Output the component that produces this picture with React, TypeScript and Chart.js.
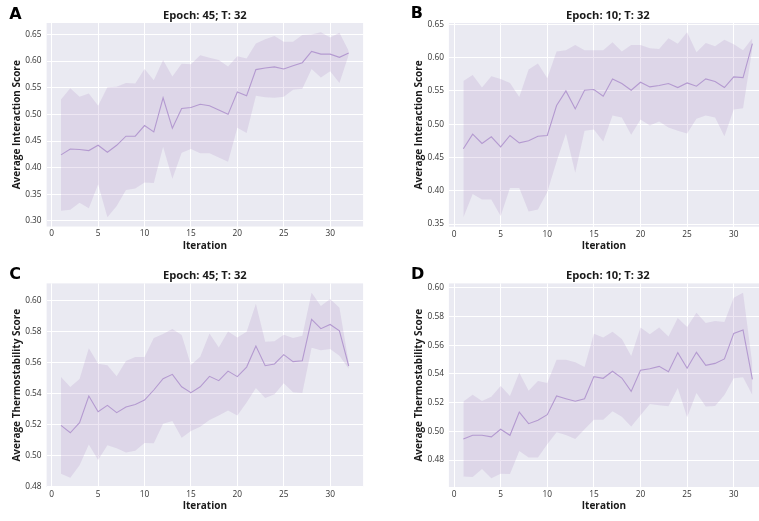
import React, { useEffect, useRef } from "react";
import { Chart, registerables } from "chart.js";

Chart.register(...registerables);

// ---------- data ----------
const iterations = Array.from({ length: 32 }, (_, i) => i + 1);
const xTicks = [0, 5, 10, 15, 20, 25, 30];

const yTicksA = [0.3, 0.35, 0.4, 0.45, 0.5, 0.55, 0.6, 0.65];
const yTicksB = [0.35, 0.4, 0.45, 0.5, 0.55, 0.6, 0.65];
const yTicksC = [0.48, 0.5, 0.52, 0.54, 0.56, 0.58, 0.6];
const yTicksD = [0.48, 0.5, 0.52, 0.54, 0.56, 0.58, 0.6];

const titleA = "Epoch: 45; T: 32";
const titleB = "Epoch: 10; T: 32";
const titleC = "Epoch: 45; T: 32";
const titleD = "Epoch: 10; T: 32";
const yLabelInteraction = "Average Interaction Score";
const yLabelThermo = "Average Thermostability Score";
const xLabel = "Iteration";

const meanA = [0.424, 0.435, 0.434, 0.432, 0.442, 0.429, 0.442, 0.459, 0.459, 0.479, 0.467, 0.531, 0.474, 0.511, 0.513, 0.519, 0.516, 0.508, 0.5, 0.542, 0.535, 0.584, 0.587, 0.589, 0.585, 0.591, 0.597, 0.618, 0.613, 0.613, 0.607, 0.615];
const upperA = [0.528, 0.549, 0.533, 0.539, 0.516, 0.551, 0.552, 0.559, 0.558, 0.585, 0.564, 0.602, 0.571, 0.595, 0.594, 0.611, 0.606, 0.602, 0.59, 0.609, 0.605, 0.633, 0.641, 0.647, 0.636, 0.636, 0.649, 0.65, 0.654, 0.644, 0.653, 0.619];
const lowerA = [0.319, 0.321, 0.334, 0.324, 0.369, 0.307, 0.328, 0.358, 0.361, 0.372, 0.371, 0.439, 0.379, 0.428, 0.435, 0.427, 0.427, 0.419, 0.411, 0.475, 0.465, 0.535, 0.532, 0.531, 0.533, 0.546, 0.548, 0.585, 0.569, 0.581, 0.559, 0.612];

const meanB = [0.463, 0.485, 0.471, 0.481, 0.466, 0.483, 0.472, 0.475, 0.482, 0.483, 0.528, 0.55, 0.523, 0.551, 0.552, 0.542, 0.568, 0.561, 0.551, 0.563, 0.556, 0.558, 0.561, 0.555, 0.562, 0.557, 0.568, 0.564, 0.555, 0.571, 0.57, 0.621];
const upperB = [0.565, 0.574, 0.555, 0.572, 0.568, 0.562, 0.541, 0.582, 0.591, 0.569, 0.609, 0.611, 0.619, 0.611, 0.611, 0.611, 0.623, 0.609, 0.619, 0.619, 0.614, 0.613, 0.629, 0.621, 0.638, 0.608, 0.622, 0.617, 0.627, 0.62, 0.611, 0.629];
const lowerB = [0.36, 0.395, 0.387, 0.387, 0.362, 0.404, 0.404, 0.369, 0.372, 0.398, 0.444, 0.486, 0.427, 0.49, 0.492, 0.474, 0.513, 0.51, 0.484, 0.507, 0.498, 0.504, 0.495, 0.49, 0.486, 0.508, 0.513, 0.51, 0.482, 0.522, 0.524, 0.614];

const meanC = [0.5196, 0.5148, 0.5213, 0.5385, 0.5284, 0.5325, 0.5278, 0.5314, 0.5331, 0.5359, 0.5424, 0.5497, 0.5525, 0.5445, 0.5407, 0.5445, 0.5512, 0.5484, 0.5546, 0.551, 0.5572, 0.5708, 0.5581, 0.5592, 0.5652, 0.5607, 0.5613, 0.588, 0.582, 0.5847, 0.5806, 0.5579];
const upperC = [0.5508, 0.5443, 0.5495, 0.5693, 0.5594, 0.5583, 0.5512, 0.5611, 0.5637, 0.5637, 0.5759, 0.5785, 0.5817, 0.5779, 0.5585, 0.5639, 0.5789, 0.5699, 0.5802, 0.5763, 0.58, 0.598, 0.5736, 0.5738, 0.5781, 0.5759, 0.5774, 0.6052, 0.5966, 0.6011, 0.5955, 0.56];
const lowerC = [0.4884, 0.4858, 0.4938, 0.5073, 0.4972, 0.5067, 0.5048, 0.502, 0.5032, 0.5082, 0.508, 0.5207, 0.5224, 0.5116, 0.5159, 0.5187, 0.523, 0.526, 0.5291, 0.526, 0.5344, 0.5437, 0.5372, 0.5396, 0.5467, 0.5409, 0.5404, 0.5697, 0.568, 0.5688, 0.5645, 0.5561];

const meanD = [0.4947, 0.4972, 0.4972, 0.4961, 0.5014, 0.4972, 0.5134, 0.5053, 0.5077, 0.5116, 0.5246, 0.5227, 0.5209, 0.5227, 0.5381, 0.5369, 0.5418, 0.5371, 0.5278, 0.5425, 0.5436, 0.5452, 0.5415, 0.5548, 0.5439, 0.555, 0.5459, 0.5473, 0.5504, 0.5682, 0.5705, 0.5362];
const upperD = [0.5207, 0.5255, 0.5211, 0.5241, 0.5316, 0.5246, 0.5408, 0.5283, 0.535, 0.5336, 0.5499, 0.5499, 0.548, 0.5448, 0.568, 0.5654, 0.5694, 0.5643, 0.5524, 0.5722, 0.5675, 0.5722, 0.5661, 0.5789, 0.5726, 0.5826, 0.5754, 0.5768, 0.5761, 0.593, 0.5965, 0.5466];
const lowerD = [0.4685, 0.4682, 0.4738, 0.4673, 0.4705, 0.4703, 0.4863, 0.4817, 0.4817, 0.491, 0.4993, 0.4975, 0.4947, 0.5014, 0.5081, 0.5081, 0.5139, 0.5102, 0.5033, 0.5111, 0.519, 0.5181, 0.5174, 0.5302, 0.5098, 0.5267, 0.5172, 0.5176, 0.5253, 0.5369, 0.5376, 0.5253];

// ---------- styles / layout ----------
const BG = "#eaeaf2";
const LINE = "#b49ad0";
const BAND = "rgba(169,134,197,0.2)";
const FONT = "'Open Sans', 'Noto Sans', sans-serif";

type Spec = {
  letter: string;
  title: string;
  yLabel: string;
  mean: number[];
  upper: number[];
  lower: number[];
  yTicks: number[];
  yMin: number;
  yMax: number;
  xMin: number;
  xMax: number;
  left: number;
  top: number;
  w: number;
  h: number;
  plotLeft: number;
  plotTop: number;
  plotRight: number;
  plotBottom: number;
  letterX: number;
  letterY: number;
  titleY: number;
  yTitleX: number;
};

const panels: Spec[] = [
  {
    letter: "A", title: titleA, yLabel: yLabelInteraction, mean: meanA, upper: upperA, lower: lowerA,
    yTicks: yTicksA, yMin: 0.2896, yMax: 0.6714, xMin: -0.55, xMax: 33.55,
    left: 0, top: 0, w: 379, h: 260, plotLeft: 46.6, plotTop: 23, plotRight: 363.1, plotBottom: 226.5,
    letterX: 9.3, letterY: 19.3, titleY: 19, yTitleX: 17.3,
  },
  {
    letter: "B", title: titleB, yLabel: yLabelInteraction, mean: meanB, upper: upperB, lower: lowerB,
    yTicks: yTicksB, yMin: 0.346, yMax: 0.652, xMin: -0.55, xMax: 32.71,
    left: 379, top: 0, w: 380, h: 260, plotLeft: 448.9, plotTop: 23, plotRight: 759, plotBottom: 226.7,
    letterX: 410.7, letterY: 18.3, titleY: 19, yTitleX: 418.7,
  },
  {
    letter: "C", title: titleC, yLabel: yLabelThermo, mean: meanC, upper: upperC, lower: lowerC,
    yTicks: yTicksC, yMin: 0.4798, yMax: 0.6112, xMin: -0.55, xMax: 33.55,
    left: 0, top: 260, w: 379, h: 261, plotLeft: 46.6, plotTop: 283.4, plotRight: 363.1, plotBottom: 487,
    letterX: 9.3, letterY: 279.3, titleY: 279.3, yTitleX: 17,
  },
  {
    letter: "D", title: titleD, yLabel: yLabelThermo, mean: meanD, upper: upperD, lower: lowerD,
    yTicks: yTicksD, yMin: 0.4612, yMax: 0.603, xMin: -0.55, xMax: 32.71,
    left: 379, top: 260, w: 380, h: 261, plotLeft: 448.9, plotTop: 283.4, plotRight: 759, plotBottom: 487,
    letterX: 411, letterY: 279.3, titleY: 279.3, yTitleX: 418.7,
  },
];

function Panel({ s }: { s: Spec }) {
  const ref = useRef<HTMLCanvasElement>(null);
  useEffect(() => {
    const canvas = ref.current;
    if (!canvas) return;
    const decor = {
      id: "decor",
      beforeDraw(chart: any) {
        const { ctx, chartArea: a } = chart;
        ctx.save();
        ctx.fillStyle = BG;
        ctx.fillRect(a.left, a.top, a.right - a.left, a.bottom - a.top);
        ctx.restore();
      },
      afterDraw(chart: any) {
        const ctx = chart.ctx;
        ctx.save();
        ctx.fillStyle = "#000";
        ctx.textAlign = "left";
        ctx.textBaseline = "alphabetic";
        ctx.font = "bold 16px 'DejaVu Sans'";
        ctx.fillText(s.letter, s.letterX - s.left, s.letterY - s.top);
        ctx.fillStyle = "#1a1a1a";
        ctx.textAlign = "center";
        ctx.font = `bold 11.2px ${FONT}`;
        const cx = chart.scales.x.getPixelForValue(16.5);
        ctx.fillText(s.title, cx, s.titleY - s.top);
        ctx.restore();
      },
    };
    const pts = (arr: number[]) => arr.map((v, i) => ({ x: iterations[i], y: v }));
    const chart = new Chart(canvas, {
      type: "line",
      data: {
        datasets: [
          {
            data: pts(s.mean),
            borderColor: LINE,
            borderWidth: 1.1,
            pointRadius: 0,
            fill: false,
            tension: 0,
            order: 0,
          },
          {
            data: pts(s.lower),
            borderWidth: 0,
            borderColor: "rgba(0,0,0,0)",
            pointRadius: 0,
            fill: false,
            order: 1,
          },
          {
            data: pts(s.upper),
            borderWidth: 0,
            borderColor: "rgba(0,0,0,0)",
            backgroundColor: BAND,
            pointRadius: 0,
            fill: 1,
            order: 1,
          },
        ],
      },
      options: {
        responsive: false,
        animation: false,
        events: [],
        layout: {
          padding: {
            top: s.plotTop - s.top,
            right: s.left + s.w - s.plotRight,
            left: 0,
            bottom: 0,
          },
        },
        plugins: {
          legend: { display: false },
          tooltip: { enabled: false },
          title: { display: false },
        },
        scales: {
          x: {
            type: "linear",
            min: s.xMin,
            max: s.xMax,
            afterBuildTicks: (sc: any) => {
              sc.ticks = xTicks.map((v) => ({ value: v }));
            },
            afterFit: (sc: any) => {
              sc.height = s.top + s.h - s.plotBottom;
            },
            ticks: {
              autoSkip: false,
              maxRotation: 0,
              padding: 2.5,
              color: "#333",
              font: { family: FONT, size: 8.3 },
              callback: (v: any) => String(v),
            },
            grid: { color: "#ffffff", lineWidth: 1, drawTicks: false },
            border: { display: false },
            title: {
              display: true,
              text: xLabel,
              color: "#1a1a1a",
              font: { family: FONT, size: 10, weight: "bold" },
              padding: { top: 0, bottom: s.h === 261 ? 9 : 8 },
            },
          },
          y: {
            type: "linear",
            min: s.yMin,
            max: s.yMax,
            afterBuildTicks: (sc: any) => {
              sc.ticks = s.yTicks.map((v) => ({ value: v }));
            },
            afterFit: (sc: any) => {
              sc.width = s.plotLeft - s.left;
            },
            ticks: {
              padding: 5,
              color: "#333",
              font: { family: FONT, size: 8.3 },
              callback: (v: any) => Number(v).toFixed(2),
            },
            grid: { color: "#ffffff", lineWidth: 1, drawTicks: false },
            border: { display: false },
            title: {
              display: true,
              text: s.yLabel,
              color: "#1a1a1a",
              font: { family: FONT, size: 10, weight: "bold" },
              padding: { top: s.yTitleX - s.left - 6, bottom: 0 },
            },
          },
        },
      },
      plugins: [decor],
    } as any);
    return () => chart.destroy();
  }, [s]);
  return (
    <canvas
      ref={ref}
      width={s.w}
      height={s.h}
      style={{ position: "absolute", left: s.left, top: s.top, width: s.w, height: s.h }}
    />
  );
}

export default function App() {
  return (
    <div
      style={{
        position: "absolute",
        left: 0,
        top: 0,
        width: 759,
        height: 521,
        background: "#ffffff",
        overflow: "hidden",
      }}
    >
      {panels.map((p) => (
        <Panel key={p.letter} s={p} />
      ))}
    </div>
  );
}
